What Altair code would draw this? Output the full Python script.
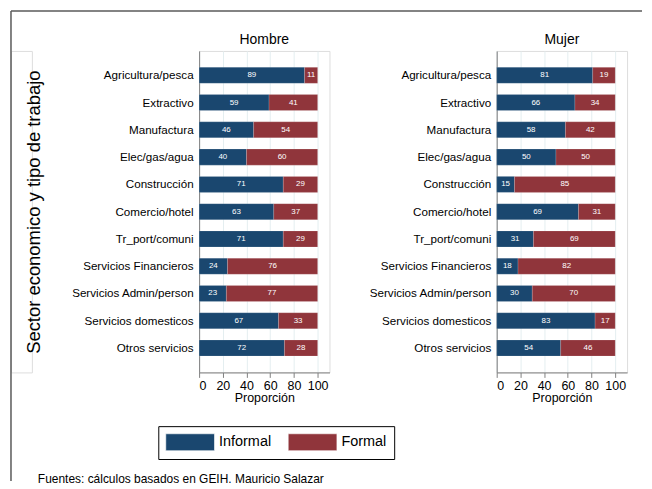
import altair as alt
import pandas as pd

sectors = ["Agricultura/pesca", "Extractivo", "Manufactura", "Elec/gas/agua",
           "Construcción", "Comercio/hotel", "Tr_port/comuni",
           "Servicios Financieros", "Servicios Admin/person",
           "Servicios domesticos", "Otros servicios"]
hombre_informal = [89, 59, 46, 40, 71, 63, 71, 24, 23, 67, 72]
hombre_formal = [11, 41, 54, 60, 29, 37, 29, 76, 77, 33, 28]
mujer_informal = [81, 66, 58, 50, 15, 69, 31, 18, 30, 83, 54]
mujer_formal = [19, 34, 42, 50, 85, 31, 69, 82, 70, 17, 46]
types = ["Informal", "Formal"]
colors = ["#1a476f", "#90353b"]
x_ticks = [0, 20, 40, 60, 80, 100]
panel_titles = ["Hombre", "Mujer"]
y_title = "Sector economico y tipo de trabajo"
x_title = "Proporción"
footer = "Fuentes: cálculos basados en GEIH. Mauricio Salazar"

FONT = "Liberation Sans, Arial, sans-serif"


def build_df(inf, form):
    rows = []
    for s, a, b in zip(sectors, inf, form):
        rows.append(dict(sector=s, tipo="Informal", value=a, start=0, end=a))
        rows.append(dict(sector=s, tipo="Formal", value=b, start=a, end=a + b))
    df = pd.DataFrame(rows)
    df["mid"] = (df["start"] + df["end"]) / 2
    return df


legend = alt.Legend(orient="none", legendX=148, legendY=377,
                    direction="horizontal", title=None,
                    symbolType="M-2.88,-1H2.88V1H-2.88Z",
                    symbolSize=289, symbolOffset=16, symbolOpacity=1,
                    symbolStrokeWidth=0.6, symbolStrokeColor="#ffffff",
                    labelFontSize=14.5, labelFont=FONT,
                    labelColor="black", labelOffset=20,
                    columnPadding=15, strokeColor="black",
                    padding=7)

xscale = alt.Scale(domain=[0, 110], nice=False)
xaxis = alt.Axis(values=x_ticks, grid=True, gridColor="#e4eef0", domainColor="#808080",
                 tickColor="#808080", tickSize=5, labelFontSize=12.5, labelFont=FONT,
                 labelColor="black", labelPadding=2, labelOverlap=False,
                 title=x_title, titleFontSize=12.5,
                 titleFont=FONT, titleFontWeight="normal", titleColor="black",
                 titlePadding=0)


def panel(df, title, show_ytitle):
    yaxis_kw = dict(ticks=False, labelPadding=6, grid=False, domainColor="#808080",
                    labelFontSize=11.7, labelColor="black", labelFont=FONT,
                    labelLimit=300)
    if show_ytitle:
        yaxis_kw.update(title=y_title, titleFontSize=18.5, titleFontWeight="normal",
                        titleFont=FONT, titlePadding=28, titleColor="black")
    else:
        yaxis_kw.update(title=None)
    yaxis = alt.Axis(**yaxis_kw)
    yscale = alt.Scale(paddingInner=0.413, paddingOuter=0.6)
    base = alt.Chart(df)
    bars = base.mark_bar(stroke="#ffffff", strokeWidth=0.3, strokeOpacity=0.5).encode(
        x=alt.X("start:Q", scale=xscale, axis=xaxis),
        x2="end:Q",
        y=alt.Y("sector:N", sort=sectors, scale=yscale, axis=yaxis),
        color=alt.Color("tipo:N", scale=alt.Scale(domain=types, range=colors),
                        legend=legend),
    )
    labels = base.mark_text(fontSize=8, color="white", font=FONT).encode(
        x=alt.X("mid:Q", scale=xscale, axis=xaxis),
        y=alt.Y("sector:N", sort=sectors, scale=yscale, axis=yaxis),
        text="value:Q")
    return (bars + labels).properties(
        width=131, height=323,
        title=alt.TitleParams(title, fontSize=14, fontWeight="normal", font=FONT,
                              color="black", anchor="middle", offset=4))


# graph-region frame (left and top edges, as line segments) and source note
note_df = pd.DataFrame({"note": [footer]})
frame_base = alt.Chart(note_df)
frame_left = frame_base.mark_rule(color="#5a5a5a", strokeWidth=1.5).encode(
    x=alt.value(0), x2=alt.value(0), y=alt.value(-40), y2=alt.value(432))
frame_top = frame_base.mark_rule(color="#5a5a5a", strokeWidth=1.5).encode(
    x=alt.value(0), x2=alt.value(634), y=alt.value(-40), y2=alt.value(-40))
note = frame_base.mark_text(fontSize=12, font=FONT, color="black", align="left",
                            baseline="middle").encode(
    x=alt.value(27), y=alt.value(430), text="note:N")
frame_chart = alt.layer(frame_left, frame_top, note).properties(width=21, height=323)

p1 = panel(build_df(hombre_informal, hombre_formal), panel_titles[0], True)
p2 = panel(build_df(mujer_informal, mujer_formal), panel_titles[1], False)

chart = alt.hconcat(frame_chart, p1, p2, spacing=168, bounds="flush").properties(
    padding={"left": 1, "top": 0, "right": 0, "bottom": 0},
).configure_view(stroke=None).configure(background="white")

chart.save("out.html", embed_options={"renderer": "svg", "actions": False})
